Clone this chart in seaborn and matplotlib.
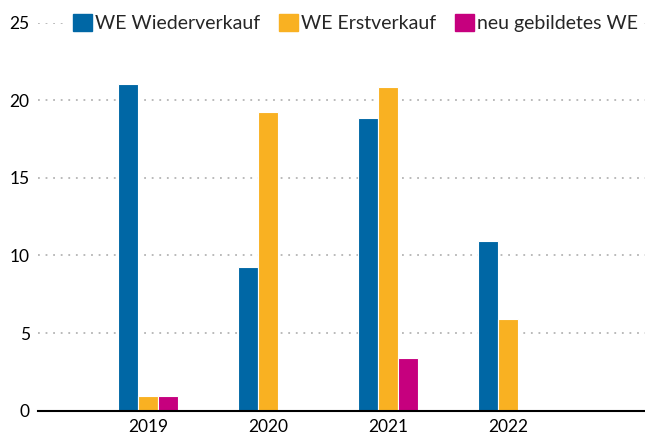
import pandas as pd
import matplotlib.pyplot as plt
import seaborn as sns

years     = ["2019", "2020", "2021", "2022"]
series    = ["WE Wiederverkauf", "WE Erstverkauf", "neu gebildetes WE"]
wieder    = [21.05, 9.25, 18.85, 10.9]
erst      = [0.95, 19.25, 20.85, 5.9]
neu       = [0.95, None, 3.4, None]
colors    = ["#0067a5", "#f9b122", "#c6007e"]
y_ticks   = [0, 5, 10, 15, 20, 25]

# --- long-form table, drop empty cells ---
rows = []
for name, vals in zip(series, [wieder, erst, neu]):
    for yr, v in zip(years, vals):
        if v is not None:
            rows.append({"Jahr": yr, "Serie": name, "Wert": v})
df = pd.DataFrame(rows)

sns.set_theme(style="white")
plt.rcParams["font.family"] = ["Lato", "DejaVu Sans"]

fig = plt.figure(figsize=(6.45, 4.34), dpi=100)
ax = fig.add_axes([38 / 645, 1 - 410.6 / 434, 1 - 38 / 645, (410.6 - 22.6) / 434])

sns.barplot(data=df, x="Jahr", y="Wert", hue="Serie", order=years,
            hue_order=series, palette=colors, saturation=1, width=0.5, gap=0,
            edgecolor="white", linewidth=0.8, errorbar=None, ax=ax)

ax.set_xlim(-0.917, 4.14)
ax.set_ylim(0, 25)
ax.set_yticks(y_ticks)
ax.set_xlabel("")
ax.set_ylabel("")
ax.yaxis.grid(True, color="#b4b4b4", linestyle=(0, (1, 3.2)), linewidth=1.3)
ax.set_axisbelow(True)
for s in ["top", "right", "left"]:
    ax.spines[s].set_visible(False)
ax.spines["bottom"].set_color("black")
ax.spines["bottom"].set_linewidth(1.5)
ax.tick_params(axis="both", length=0, labelsize=12.5, colors="black")
ax.tick_params(axis="y", pad=6)
ax.tick_params(axis="x", pad=6)

ax.get_legend().remove()
handles = [plt.Rectangle((0, 0), 1, 1, color=c) for c in colors]
leg = fig.legend(handles, series, loc="center left",
                 bbox_to_anchor=(67 / 645, 1 - 23 / 434), bbox_transform=fig.transFigure,
                 ncol=3, frameon=True, facecolor="white", edgecolor="none", framealpha=1,
                 fontsize=14, handlelength=1.0, handleheight=1.0, handletextpad=0.15,
                 columnspacing=0.95, borderpad=0.3, borderaxespad=0, fancybox=False)

fig.savefig("out.png", dpi=100)
